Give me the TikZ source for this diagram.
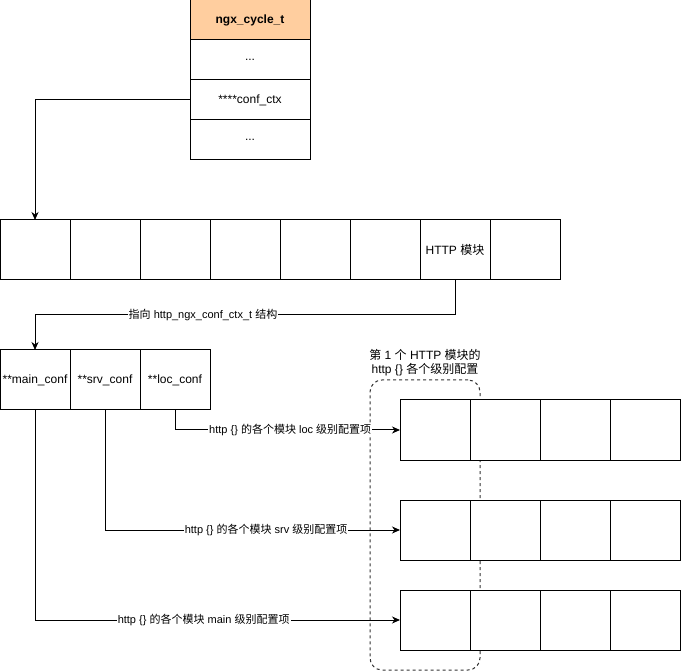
\documentclass[tikz,border=0pt]{standalone}
\usepackage{fontspec}
\setmainfont{Liberation Sans}
\newfontfamily\cjk{Noto Sans CJK SC}
\usetikzlibrary{positioning,arrows.meta}

\definecolor{head-node-color}{HTML}{FFCE9F}
\definecolor{group-line-color}{HTML}{333333}

\begin{document}
\begin{tikzpicture}[x=1pt,y=-1pt,
line width=1pt,
node distance=0pt,
every node/.style={font=\fontsize{12}{14}\selectfont},
cell/.style={draw,fill=white,outer sep=0pt,inner sep=0pt,minimum width=70pt,minimum height=60pt},
field/.style={cell,minimum width=120pt,minimum height=40pt},
edge label/.style={fill=white,inner sep=1pt,font=\fontsize{11}{13}\selectfont},
link/.style={-{Stealth[length=8pt,width=7pt,inset=2.5pt]}}]
\useasboundingbox (0,0) rectangle (681,671);

% the group box sits behind the item rows
\node (Group) [draw=group-line-color, dashed, rounded corners=12pt, minimum width=110pt, minimum height=290pt,
  label={[align=center, inner sep=3pt, font=\fontsize{12}{14}\selectfont]above:{{\cjk 第} 1 {\cjk 个} HTTP {\cjk 模块的}\\http \{\} {\cjk 各个级别配置}}}] at (425,525) {};

% ngx_cycle_t
\node (Cycle) [field, fill=head-node-color, font=\bfseries\fontsize{12}{14}\selectfont] at (250,20) {ngx\_cycle\_t};
\node (CycleDots1) [field, below=of Cycle] {...};
\node (ConfCtx) [field, below=of CycleDots1] {****conf\_ctx};
\node (CycleDots2) [field, below=of ConfCtx] {...};

% module array
\node (Module1) [cell] at (35,250) {};
\node (Module2) [cell, right=of Module1] {};
\node (Module3) [cell, right=of Module2] {};
\node (Module4) [cell, right=of Module3] {};
\node (Module5) [cell, right=of Module4] {};
\node (Module6) [cell, right=of Module5] {};
\node (Module7) [cell, right=of Module6] {HTTP {\cjk 模块}};
\node (Module8) [cell, right=of Module7] {};

% http_ngx_conf_ctx_t
\node (MainConf) [cell] at (35,380) {**main\_conf};
\node (SrvConf) [cell, right=of MainConf] {**srv\_conf};
\node (LocConf) [cell, right=of SrvConf] {**loc\_conf};

% item rows
\foreach \row/\y in {Loc/430, Srv/530, Main/620}
  \foreach \k in {1,...,4}
    \node (\row Item\k) [cell] at ({365+70*\k},\y) {};

\draw[link] (ConfCtx.west) -| (Module1.north);
\draw[link] (Module7.south) -- ++(0,35) -| node (CtxLabel) [edge label, pos=0.3] {{\cjk 指向} http\_ngx\_conf\_ctx\_t {\cjk 结构}} (MainConf.north);
%
\draw[link] (LocConf.south) |- node (LocLabel) [edge label, pos=0.756] {http \{\} {\cjk 的各个模块} loc {\cjk 级别配置项}} (LocItem1.west);
\draw[link] (SrvConf.south) |- node (SrvLabel) [edge label, pos=0.773] {http \{\} {\cjk 的各个模块} srv {\cjk 级别配置项}} (SrvItem1.west);
\draw[link] (MainConf.south) |- node (MainLabel) [edge label, pos=0.731] {http \{\} {\cjk 的各个模块} main {\cjk 级别配置项}} (MainItem1.west);

\end{tikzpicture}
\end{document}
